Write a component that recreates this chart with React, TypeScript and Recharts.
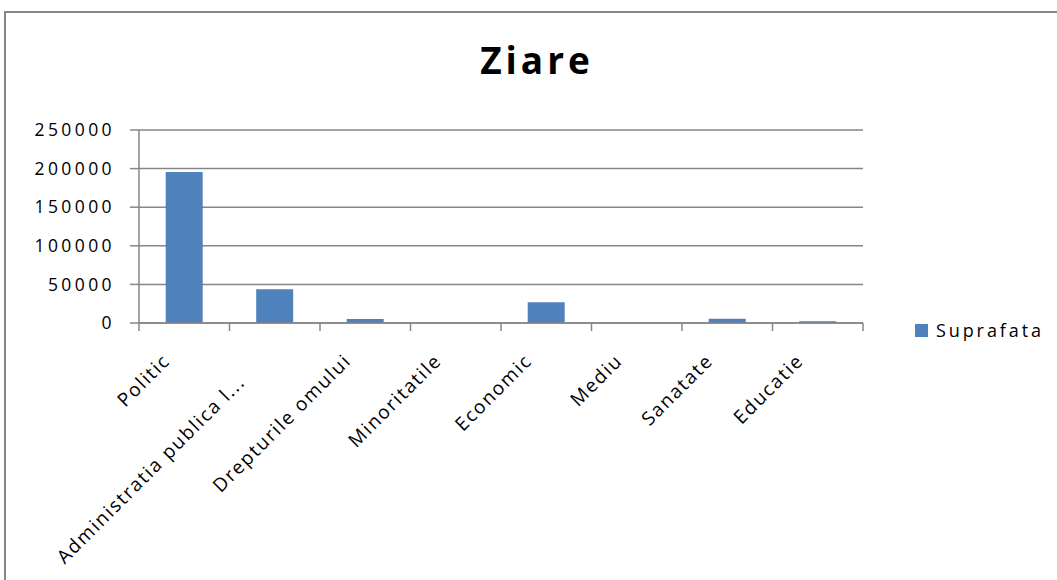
import React from "react";
import { BarChart, Bar, XAxis, YAxis, CartesianGrid, Legend } from "recharts";

const categories = [
  "Politic",
  "Administratia publica l...",
  "Drepturile omului",
  "Minoritatile",
  "Economic",
  "Mediu",
  "Sanatate",
  "Educatie",
];
const suprafata = [195600, 43800, 5200, 0, 27000, 0, 5400, 2400];
const yTicks = [0, 50000, 100000, 150000, 200000, 250000];
const seriesName = "Suprafata";
const title = "Ziare";

const data = categories.map((c, i) => ({ name: c, value: suprafata[i] }));

const FONT = "'Open Sans', sans-serif";
const GRAY = "#868686";
const BLUE = "#4F81BD";

const XTick = (props: any) => {
  const { x, y, payload, index } = props;
  const half = payload && payload.offset ? payload.offset : 45;
  const axisY = y - 10;
  const label = String(payload.value);
  const truncated = label.endsWith("...");
  return (
    <g>
      <line x1={x - half} x2={x - half} y1={axisY} y2={axisY + 8} stroke={GRAY} strokeWidth={1.5} />
      {index === categories.length - 1 ? (
        <line x1={x + half} x2={x + half} y1={axisY} y2={axisY + 8} stroke={GRAY} strokeWidth={1.5} />
      ) : null}
      <g transform={`translate(${x - 13},${axisY + 39})`}>
        <text
          transform="rotate(-45)"
          textAnchor="end"
          dx={truncated ? -26 : 0}
          dy={truncated ? 4 : 0}
          fontFamily={FONT}
          fontSize={19}
          letterSpacing={1.7}
          fill="#000"
        >
          {label}
        </text>
      </g>
    </g>
  );
};

const LegendContent = () => (
  <div style={{ display: "flex", alignItems: "center", fontFamily: FONT, fontSize: 18, letterSpacing: 2.9, color: "#000", whiteSpace: "nowrap" }}>
    <span style={{ display: "inline-block", width: 13, height: 13, background: BLUE, marginRight: 8 }} />
    <span>{seriesName}</span>
  </div>
);

export default function App() {
  return (
    <div style={{ position: "absolute", left: 0, top: 0, width: 1057, height: 580, overflow: "hidden", background: "#fff" }}>
      <div
        style={{
          position: "absolute",
          left: 4,
          top: 11,
          width: 1100,
          height: 620,
          border: `2px solid ${GRAY}`,
          boxSizing: "border-box",
        }}
      />
      <div
        style={{
          position: "absolute",
          left: 0,
          width: 1074,
          top: 36,
          textAlign: "center",
          fontFamily: FONT,
          fontWeight: 700,
          fontSize: 37,
          letterSpacing: 4,
          lineHeight: "48px",
          color: "#000",
        }}
      >
        {title}
      </div>
      <div style={{ position: "absolute", left: 0, top: 0 }}>
        <BarChart
          width={1057}
          height={580}
          data={data}
          margin={{ top: 130, right: 194, bottom: 57, left: 0 }}
          barCategoryGap="29.5%"
        >
          <CartesianGrid vertical={false} stroke={GRAY} strokeWidth={1.5} />
          <XAxis
            dataKey="name"
            type="category"
            interval={0}
            height={200}
            axisLine={{ stroke: GRAY, strokeWidth: 1.5 }}
            tickLine={false}
            tickSize={0}
            tickMargin={10}
            tick={<XTick />}
          />
          <YAxis
            domain={[0, 250000]}
            ticks={yTicks}
            interval={0}
            width={139}
            axisLine={{ stroke: GRAY, strokeWidth: 1.5 }}
            tickLine={{ stroke: GRAY, strokeWidth: 1.5 }}
            tickSize={9}
            tickMargin={15}
            tick={{ fontFamily: FONT, fontSize: 17.5, fill: "#000", letterSpacing: 3.4 }}
          />
          <Legend
            layout="horizontal"
            align="center"
            verticalAlign="middle"
            content={<LegendContent />}
            wrapperStyle={{ left: 915, top: 318, width: 142, height: 22 }}
          />
          <Bar dataKey="value" name={seriesName} fill={BLUE} isAnimationActive={false} />
        </BarChart>
      </div>
    </div>
  );
}
